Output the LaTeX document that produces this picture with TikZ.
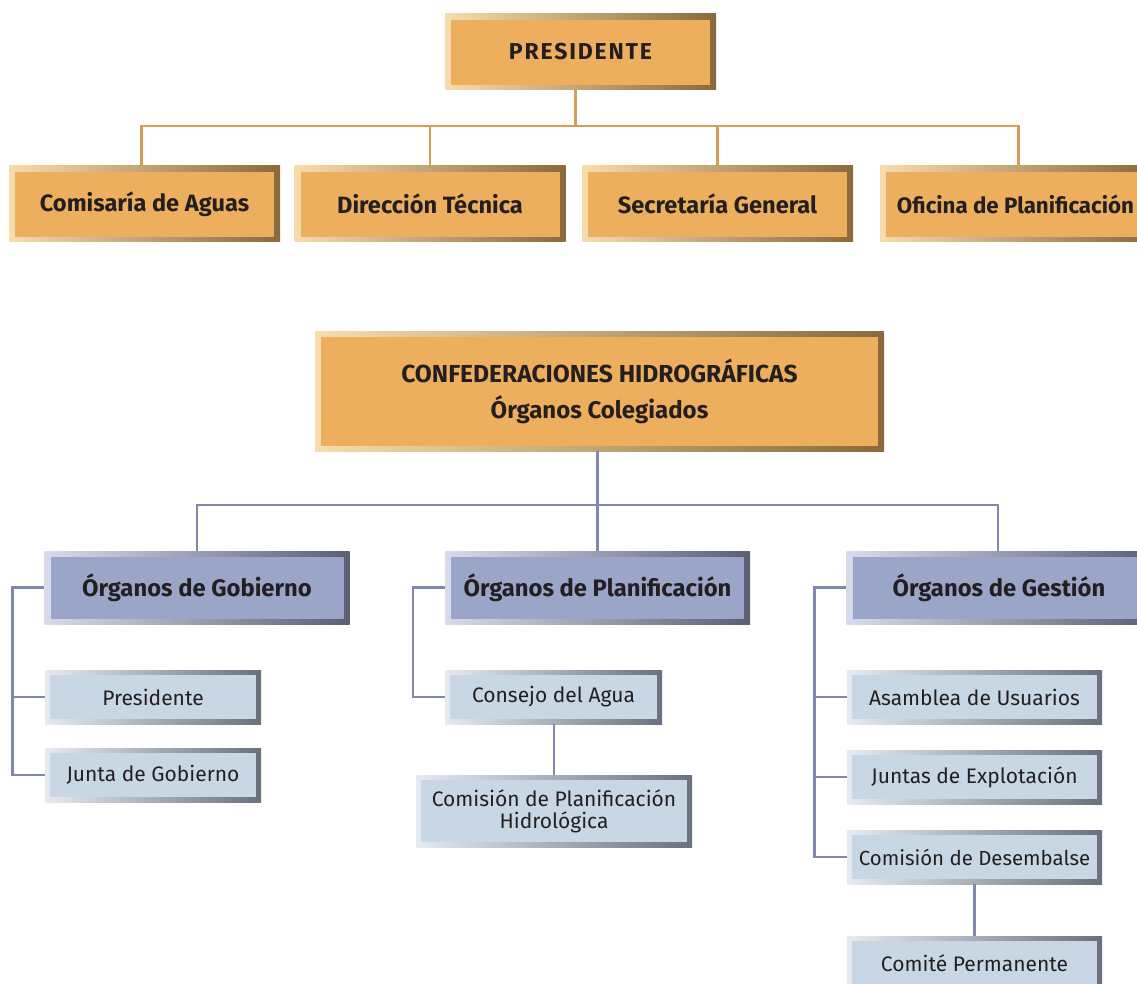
\documentclass[tikz,border=0pt]{standalone}
\usepackage{fontspec}
\setmainfont{Fira Sans}

\definecolor{ink}{HTML}{231F20}
\definecolor{orfill}{HTML}{EDAF5D}
\definecolor{orlight}{HTML}{F7DCAE}
\definecolor{ordark}{HTML}{8A6A3C}
\definecolor{orline}{HTML}{D29E58}
\definecolor{hdfill}{HTML}{9AA5C8}
\definecolor{hdlight}{HTML}{D8DCEA}
\definecolor{hddark}{HTML}{5A5F74}
\definecolor{lbfill}{HTML}{C9D7E4}
\definecolor{lblight}{HTML}{E6EBF1}
\definecolor{lbdark}{HTML}{6A717E}
\definecolor{blline}{HTML}{8088B0}

\begin{document}
\begin{tikzpicture}[x=1pt,y=-1pt,
  box/.style={rectangle, inner sep=0pt, align=center, text=ink},
  orangebox/.style={box, left color=orlight, right color=ordark,
    path picture={\fill[orfill] ([shift={(6pt,-6pt)}]path picture bounding box.north west)
      rectangle ([shift={(-6pt,5pt)}]path picture bounding box.south east);}},
  headbox/.style={box, left color=hdlight, right color=hddark,
    minimum width=305pt, minimum height=73pt,
    font=\fontsize{23.8}{26}\selectfont\bfseries,
    path picture={\fill[hdfill] ([shift={(6pt,-6pt)}]path picture bounding box.north west)
      rectangle ([shift={(-6pt,5pt)}]path picture bounding box.south east);}},
  leafbox/.style={box, left color=lblight, right color=lbdark,
    minimum height=54pt, font=\fontsize{21}{22}\selectfont,
    path picture={\fill[lbfill] ([shift={(5pt,-5pt)}]path picture bounding box.north west)
      rectangle ([shift={(-5pt,5pt)}]path picture bounding box.south east);}},
  unitbox/.style={orangebox, minimum width=271pt, minimum height=76pt,
    font=\fontsize{23.6}{26}\selectfont\bfseries},
  orlink/.style={draw=orline, line width=2.4pt},
  bllink/.style={draw=blline, line width=2.4pt}]
  \useasboundingbox (0,0) rectangle (1137,984);
  \clip (0,0) rectangle (1137,984);

  % first chart
  \node[unitbox, font=\fontsize{23}{26}\selectfont\bfseries\addfontfeature{LetterSpace=8}] (pres) at (580.5,52) {PRESIDENTE};
  \node[unitbox] (comis) at (144.5,204) {Comisaría de Aguas};
  \node[unitbox] (direc) at (430,204) {Dirección Técnica};
  \node[unitbox] (secre) at (717.5,204) {Secretaría General};
  \node[unitbox, font=\fontsize{22.3}{26}\selectfont\bfseries] (ofic) at (1015.5,204) {Oficina de Planificación};

  \draw[orlink] ([xshift=-5pt]pres.south) -- ++(0,36) coordinate (obus);
  \draw[orlink] (obus) -| ([xshift=-3pt]comis.north);
  \draw[orlink] (obus) -| (direc.north);
  \draw[orlink] (obus) -| (secre.north);
  \draw[orlink] (obus) -| ([xshift=3pt]ofic.north);

  % second chart
  \node[orangebox, minimum width=569pt, minimum height=120pt,
    font=\fontsize{24}{36}\selectfont\bfseries] (confed) at (599.5,391)
    {\fontsize{24.6}{36}\selectfont CONFEDERACIONES HIDROGRÁFICAS\\Órganos Colegiados};

  \node[headbox] (gob) at (197,587.5) {Órganos de Gobierno};
  \node[headbox] (plan) at (597.5,587.5) {Órganos de Planificación};
  \node[headbox] (gest) at (999,587.5) {Órganos de Gestión};

  \node[leafbox, minimum width=216pt] (pgob) at (153,697) {Presidente};
  \node[leafbox, minimum width=216pt] (jgob) at (153,775) {Junta de Gobierno};
  \node[leafbox, minimum width=217pt] (consejo) at (553.5,697) {Consejo del Agua};
  \node[leafbox, minimum width=276pt, minimum height=72pt, font=\fontsize{21}{22}\selectfont] (comhid) at (554,811)
    {Comisión de Planificación\\Hidrológica};
  \node[leafbox, minimum width=255pt] (asam) at (974.5,697) {Asamblea de Usuarios};
  \node[leafbox, minimum width=255pt] (juntex) at (974.5,777) {Juntas de Explotación};
  \node[leafbox, minimum width=255pt, font=\fontsize{20.4}{22}\selectfont] (comdes) at (974.5,857) {Comisión de Desembalse};
  \node[leafbox, minimum width=255pt] (comper) at (974.5,963) {Comité Permanente};

  \draw[bllink] ([xshift=-2pt]confed.south) -- (plan.north);
  \draw[bllink] ([xshift=-2pt]confed.south) ++(0,54) coordinate (bbus) -| (gob.north);
  \draw[bllink] (bbus) -| ([xshift=-1pt]gest.north);

  \draw[bllink] (gob.west) -- ++(-32,0) coordinate (gbar) |- (jgob.west);
  \draw[bllink] (gbar |- pgob.west) -- (pgob.west);

  \draw[bllink] (plan.west) -- ++(-32,0) |- (consejo.west);
  \draw[bllink] (consejo.south -| comhid.north) -- (comhid.north);

  \draw[bllink] (gest.west) -- ++(-32,0) coordinate (sbar) |- (comdes.west);
  \draw[bllink] (sbar |- asam.west) -- (asam.west);
  \draw[bllink] (sbar |- juntex.west) -- (juntex.west);
  \draw[bllink] (comdes.south) -- (comper.north);
\end{tikzpicture}
\end{document}
